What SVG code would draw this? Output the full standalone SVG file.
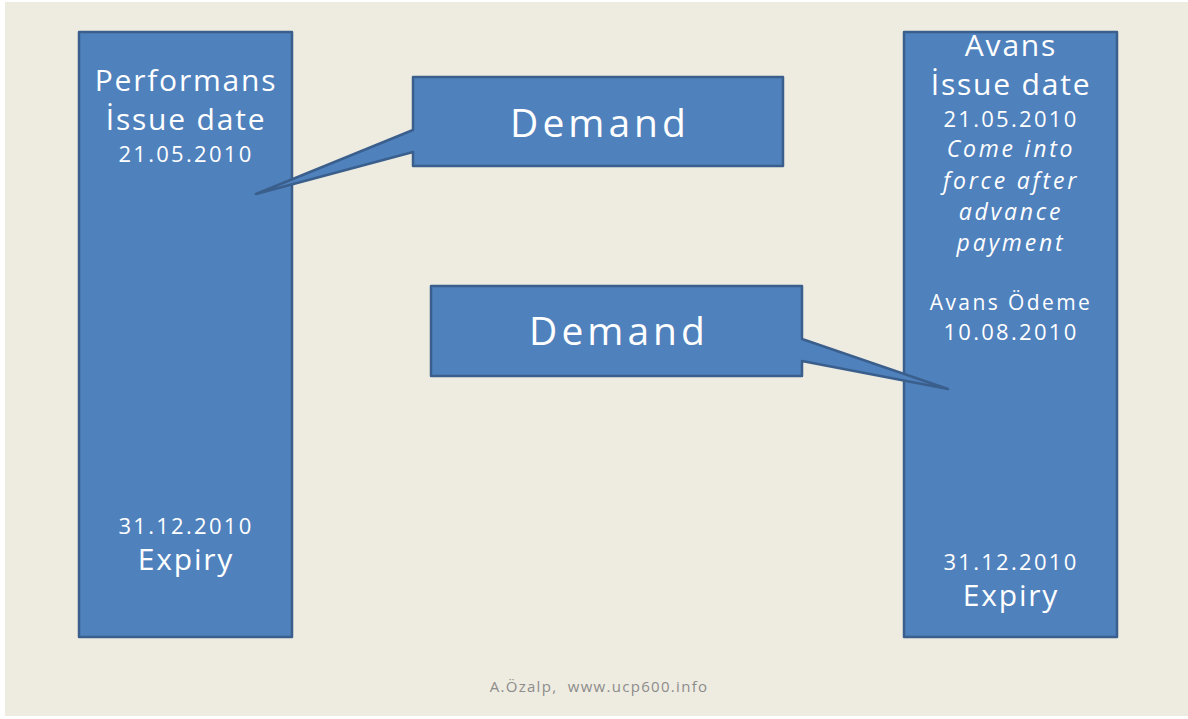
<svg xmlns="http://www.w3.org/2000/svg" width="1188" height="719" viewBox="0 0 1188 719">
<style>
.box{fill:#4F81BD;stroke:#3A5F8C;stroke-width:2.5;stroke-linejoin:round}
text{font-family:"Open Sans","Liberation Sans",sans-serif;fill:#ffffff;text-anchor:middle}
.l{font-size:30px;letter-spacing:1.8px}
.m{font-size:22px;letter-spacing:2.3px}
.s{font-size:21px;letter-spacing:2.4px}
.i{font-size:23px;font-style:italic;letter-spacing:2.8px}
.d{font-size:39px;letter-spacing:4px}
.f{font-size:15px;fill:#8c8c8c;letter-spacing:1.3px;white-space:pre}
</style>
<rect x="0" y="0" width="1188" height="719" fill="#ffffff"/>
<rect x="5" y="2" width="1183" height="714" fill="#EEEBE0"/>
<g id="performans">
<rect class="box" x="79" y="32" width="213" height="605"/>
<text class="l" x="186" y="91">Performans</text>
<text class="l" x="186" y="130">İssue date</text>
<text class="m" x="186" y="162">21.05.2010</text>
<text class="m" x="186" y="534">31.12.2010</text>
<text class="l" x="186" y="570">Expiry</text>
</g>
<g id="avans">
<rect class="box" x="904" y="32" width="213" height="605"/>
<text class="l" x="1011" y="56">Avans</text>
<text class="l" x="1011" y="95">İssue date</text>
<text class="m" x="1011" y="127">21.05.2010</text>
<text class="i" x="1011" y="157">Come into</text>
<text class="i" x="1011" y="189">force after</text>
<text class="i" x="1011" y="220">advance</text>
<text class="i" x="1011" y="251">payment</text>
<text class="s" x="1011" y="310">Avans Ödeme</text>
<text class="m" x="1011" y="340">10.08.2010</text>
<text class="m" x="1011" y="570">31.12.2010</text>
<text class="l" x="1011" y="606">Expiry</text>
</g>
<g id="connectors">
</g>
<g id="demand1">
<path class="box" d="M413,77 H783 V166 H413 V152 L256,194 L413,130 Z"/>
<text class="d" x="600" y="137">Demand</text>
</g>
<g id="demand2">
<path class="box" d="M431,286 H802 V339 L948,389 L802,361 V376 H431 Z"/>
<text class="d" x="619" y="345">Demand</text>
</g>
<text class="f" x="599" y="692">A.Özalp,  www.ucp600.info</text>
</svg>
